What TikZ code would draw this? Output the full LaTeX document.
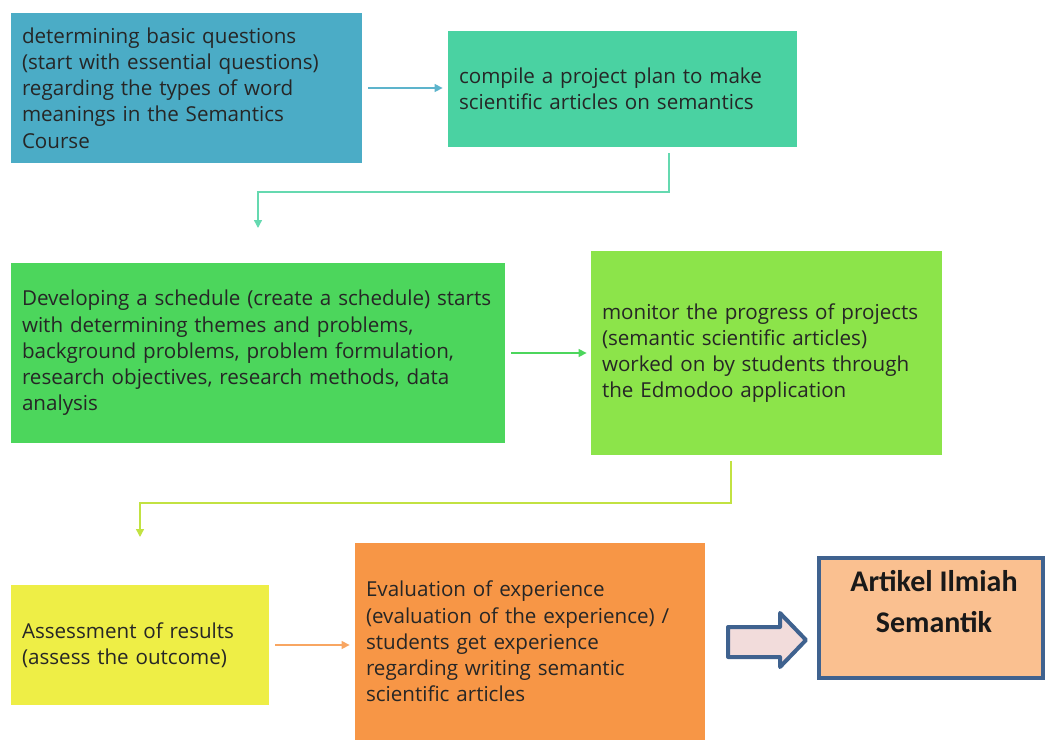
\documentclass[tikz,border=0pt]{standalone}
\usepackage{fontspec}
\setmainfont{Open Sans}
\newfontfamily\boxheadfont{Carlito}
\usepackage{tikz}
\usetikzlibrary{arrows.meta}

\definecolor{stepblue}{RGB}{75,172,198}
\definecolor{stepteal}{RGB}{74,210,162}
\definecolor{stepgreen}{RGB}{76,214,92}
\definecolor{steplime}{RGB}{140,228,74}
\definecolor{stepyellow}{RGB}{238,238,70}
\definecolor{steporange}{RGB}{247,150,70}
\definecolor{finalfill}{RGB}{250,192,144}
\definecolor{finalline}{RGB}{63,98,143}
\definecolor{arrowfill}{RGB}{242,220,219}

\begin{document}
\begin{tikzpicture}[x=0.5pt,y=-0.5pt,
		stepbox/.style={rectangle, inner xsep=5.5pt, inner ysep=0pt, align=left,
			font=\fontsize{10.3}{13.1}\selectfont, text=black!85},
		flow/.style={line width=0.7pt, -{Triangle[length=4pt,width=4pt]}}]
						% Fix the page
						\useasboundingbox (0,0) rectangle (1045,740);
						
						% Define the steps
						\node[stepbox, fill=stepblue, minimum width=175.5pt, minimum height=75pt, text width=164.5pt] (ask) at (186.5,88)
							{determining basic questions\\(start with essential questions)\\regarding the types of word\\meanings in the Semantics\\Course};
						\node[stepbox, fill=stepteal, minimum width=174.5pt, minimum height=58pt, text width=163.5pt] (plan) at (622.5,89)
							{compile a project plan to make\\scientific articles on semantics};
						\node[stepbox, fill=stepgreen, minimum width=247pt, minimum height=90pt, text width=236pt] (schedule) at (258,353)
							{Developing a schedule (create a schedule) starts\\with determining themes and problems,\\background problems, problem formulation,\\research objectives, research methods, data\\analysis};
						\node[stepbox, fill=steplime, minimum width=175.5pt, minimum height=102pt, text width=164.5pt] (monitor) at (766.5,353)
							{monitor the progress of projects\\(semantic scientific articles)\\worked on by students through\\the Edmodoo application};
						\node[stepbox, fill=stepyellow, minimum width=129pt, minimum height=60pt, text width=118pt] (assess) at (140,645)
							{Assessment of results\\(assess the outcome)};
						\node[stepbox, fill=steporange, minimum width=175pt, minimum height=98.5pt, text width=164pt] (evaluate) at (530,641.5)
							{Evaluation of experience\\(evaluation of the experience) /\\students get experience\\regarding writing semantic\\scientific articles};
						
						% Define the result
						\node[draw=finalline, line width=2pt, fill=finalfill, minimum width=112pt, minimum height=60pt] (result) at (931,618) {};
						\node[anchor=north, align=center, font=\boxheadfont\bfseries\fontsize{15}{20.5}\selectfont, text=black!90] (resulttext) at ([xshift=1.5pt,yshift=-3.5pt]result.north)
							{Artikel Ilmiah\\Semantik};
						
						% Define the free ends
						\coordinate (planout) at (669,153);
						\coordinate (schedulein) at (258,228);
						\coordinate (monitorout) at (731,461);
						\coordinate (assessin) at (140,537);
						
						% Draw the flow
						\draw[flow, stepblue!90, shorten <=3pt, shorten >=2.5pt] (ask.east) -- (ask.east -| plan.west);
						\draw[flow, stepteal!85] (planout) -- ++(0,39) -| (schedulein);
						\draw[flow, stepgreen, shorten <=3pt, shorten >=2pt] (schedule.east) -- (schedule.east -| monitor.west);
						\draw[flow, yellow!70!green!80] (monitorout) -- ++(0,42) -| (assessin);
						\draw[flow, steporange!85, shorten <=3pt, shorten >=2.5pt] (assess.east) -- (assess.east -| evaluate.west);
						
						% Draw the big arrow
						\draw[finalline, line width=2pt, fill=arrowfill, line join=round] (728,627) -- (780,627) -- (780,613) -- (806,640) -- (780,667) -- (780,657) -- (728,657) -- cycle;
					\end{tikzpicture}
\end{document}
